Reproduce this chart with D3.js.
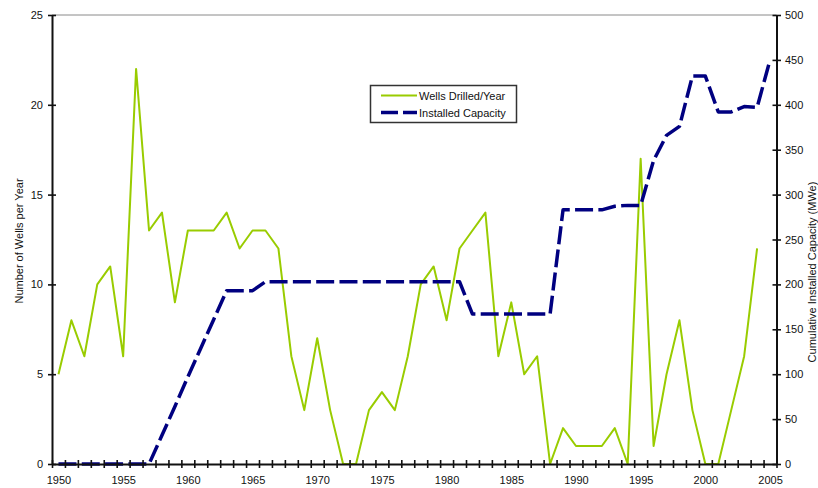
<!DOCTYPE html>
<html>
<head>
<meta charset="utf-8">
<script src="https://cdn.jsdelivr.net/npm/d3@7"></script>
<style>
  html, body { margin: 0; padding: 0; background: #fff; }
  svg { display: block; font-family: "Liberation Sans", Arial, sans-serif; }
</style>
</head>
<body>
<svg id="chart" width="818" height="488"></svg>
<script>
// Years shown on the category axis
const years = d3.range(1950, 2006);

// Wells drilled per year, 1950–2004
const wellYears = d3.range(1950, 2005);
const wellsDrilled = [
  5, 8, 6, 10, 11, 6, 22, 13, 14, 9,
  13, 13, 13, 14, 12, 13, 13, 12, 6, 3,
  7, 3, 0, 0, 3, 4, 3, 6, 10, 11,
  8, 12, 13, 14, 6, 9, 5, 6, 0, 2,
  1, 1, 1, 2, 0, 17, 1, 5, 8, 3,
  0, 0, 3, 6, 12
];

// Cumulative installed capacity (MWe), 1950–2005
const capacityYears = d3.range(1950, 2006);
const installedCapacity = [
  0, 0, 0, 0, 0, 0, 0, 0, 32, 64,
  97, 129, 161, 193, 193, 193, 203, 203, 203, 203,
  203, 203, 203, 203, 203, 203, 203, 203, 203, 203,
  203, 203, 167, 167, 167, 167, 167, 167, 167, 283,
  283, 283, 283, 287, 288, 288, 338, 366, 376, 432,
  432, 392, 392, 398, 397, 450
];

const leftTicks = [0, 5, 10, 15, 20, 25];
const rightTicks = d3.range(0, 501, 50);
const yearLabels = [1950, 1955, 1960, 1965, 1970, 1975, 1980, 1985, 1990, 1995, 2000, 2005];

const legendLabels = ["Wells Drilled/Year", "Installed Capacity"];
const leftTitle = "Number of Wells per Year";
const rightTitle = "Cumulative Installed Capacity (MWe)";

const GREEN = "#99cc00";
const NAVY = "#000080";

const svg = d3.select("#chart");
const plot = { left: 52, right: 776.5, top: 15, bottom: 464 };

// Each year occupies one category slot; points sit at slot centres
const x = d3.scaleLinear().domain([1949.5, 2005.5]).range([plot.left, plot.right]);
const yL = d3.scaleLinear().domain([0, 25]).range([plot.bottom, plot.top]);
const yR = d3.scaleLinear().domain([0, 500]).range([plot.bottom, plot.top]);

// Top border of plot area
svg.append("line")
  .attr("x1", plot.left).attr("x2", plot.right)
  .attr("y1", plot.top).attr("y2", plot.top)
  .attr("stroke", "#8a8a8a").attr("stroke-width", 1);

// Wells line
const wellLine = d3.line().x((d, i) => x(wellYears[i])).y(d => yL(d));
svg.append("path")
  .datum(wellsDrilled)
  .attr("d", wellLine)
  .attr("fill", "none")
  .attr("stroke", GREEN)
  .attr("stroke-width", 2)
  .attr("stroke-linejoin", "round");

// Installed capacity line
const capLine = d3.line().x((d, i) => x(capacityYears[i])).y(d => yR(d));
svg.append("path")
  .datum(installedCapacity)
  .attr("d", capLine)
  .attr("fill", "none")
  .attr("stroke", NAVY)
  .attr("stroke-width", 3.5)
  .attr("stroke-dasharray", "18,5.3")
  .attr("stroke-linejoin", "round");

function styleAxis(g) {
  g.select(".domain").attr("stroke", "#111").attr("stroke-width", 2);
  g.selectAll(".tick line").attr("stroke", "#111").attr("stroke-width", 1.6);
  g.selectAll("text").attr("font-size", 11).attr("fill", "#111")
    .attr("font-family", "'Liberation Sans', Arial, sans-serif");
}

// Bottom axis: ticks at category boundaries
const xTicks = svg.append("g")
  .attr("transform", `translate(0,${plot.bottom})`)
  .call(d3.axisBottom(x).tickValues(d3.range(1949.5, 2006, 1)).tickFormat("").tickSize(4).tickSizeOuter(0));
styleAxis(xTicks);
xTicks.selectAll(".tick line").attr("y1", -4);

// Bottom axis labels at category centres
const xLabels = svg.append("g")
  .attr("transform", `translate(0,${plot.bottom})`)
  .call(d3.axisBottom(x).tickValues(yearLabels).tickFormat(d3.format("d")).tickSize(0));
xLabels.select(".domain").remove();
styleAxis(xLabels);
xLabels.selectAll("text").attr("y", 20).attr("dy", 0);

// Left axis
const left = svg.append("g")
  .attr("transform", `translate(${plot.left},0)`)
  .call(d3.axisLeft(yL).tickValues(leftTicks).tickSize(4).tickSizeOuter(0).tickPadding(5));
styleAxis(left);
left.selectAll(".tick line").attr("x2", -4).attr("x1", 4);

// Right axis
const right = svg.append("g")
  .attr("transform", `translate(${plot.right},0)`)
  .call(d3.axisRight(yR).tickValues(rightTicks).tickSize(4).tickSizeOuter(0).tickPadding(4.5));
styleAxis(right);
right.selectAll(".tick line").attr("x1", -4).attr("x2", 4.5);

// Axis titles
svg.append("text")
  .attr("transform", `translate(23,241) rotate(-90)`)
  .attr("text-anchor", "middle")
  .attr("font-size", 11)
  .attr("fill", "#111")
  .text(leftTitle);

svg.append("text")
  .attr("transform", `translate(816,272) rotate(-90)`)
  .attr("text-anchor", "middle")
  .attr("font-size", 11)
  .attr("fill", "#111")
  .text(rightTitle);

// Legend
const legend = svg.append("g");
legend.append("rect")
  .attr("x", 370.5).attr("y", 85.5)
  .attr("width", 146).attr("height", 37)
  .attr("fill", "#fff")
  .attr("stroke", "#333").attr("stroke-width", 1.5);

const legendItems = [
  { label: legendLabels[0], color: GREEN, width: 2, dash: null, y: 95.5 },
  { label: legendLabels[1], color: NAVY, width: 3.5, dash: "17,5", y: 112.5 }
];
legendItems.forEach(item => {
  legend.append("line")
    .attr("x1", 381).attr("x2", 417)
    .attr("y1", item.y).attr("y2", item.y)
    .attr("stroke", item.color)
    .attr("stroke-width", item.width)
    .attr("stroke-dasharray", item.dash);
  legend.append("text")
    .attr("x", 419).attr("y", item.y + 4)
    .attr("font-size", 11)
    .attr("fill", "#111")
    .text(item.label);
});
</script>
</body>
</html>
